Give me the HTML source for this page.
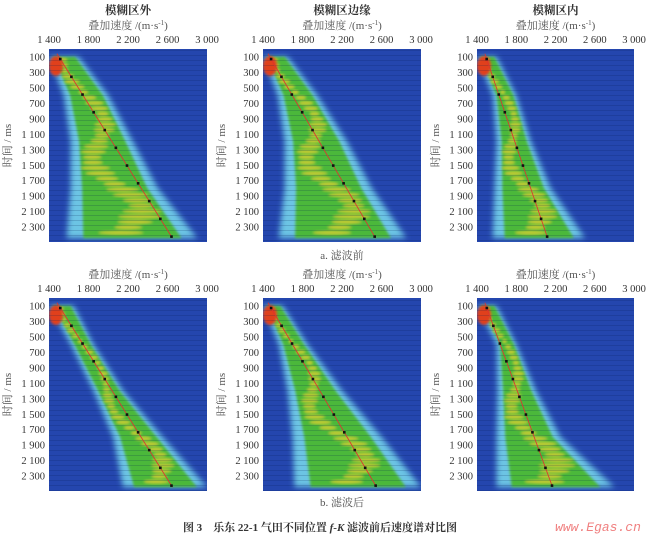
<!DOCTYPE html>
<html><head><meta charset="utf-8"><style>
body{margin:0;background:#fff;width:650px;height:538px;overflow:hidden;font-family:"Liberation Serif","Noto Serif CJK SC",serif;}
svg{display:block}
</style></head><body>
<svg id="s" width="650" height="538" xmlns="http://www.w3.org/2000/svg">
<defs>
<filter id="b1" x="-20%" y="-20%" width="140%" height="140%"><feGaussianBlur stdDeviation="3"/></filter>
<filter id="b2" x="-20%" y="-20%" width="140%" height="140%"><feGaussianBlur stdDeviation="1.4"/></filter>
<pattern id="st" width="4" height="5" patternUnits="userSpaceOnUse"><rect width="4" height="1" fill="#001a50" opacity="0.18"/></pattern>
</defs>
</svg>
<script>
var S=document.getElementById('s'),h='';
var cols=[49,263,477],W=[158,158,157];
var rows=[{y0:49,y1:242},{y0:298,y1:491}];
var T=[100,600,1200,1800,2450];
var P=[
 [[1480,60,2650,2450],[1400,1550,1620,1620,1580],[1700,2000,2250,2500,2900],0.4],
 [[1450,60,2540,2450],[1400,1550,1620,1620,1560],[1650,1950,2250,2500,2850],0.35],
 [[1480,60,2120,2450],[1400,1560,1600,1580,1560],[1600,1800,1950,2150,2500],0.4],
 [[1480,60,2650,2450],[1400,1620,1850,2050,2150],[1650,1850,2150,2550,3000],0.35],
 [[1450,60,2550,2450],[1400,1560,1650,1700,1720],[1600,1850,2200,2600,3000],0.3],
 [[1480,60,2170,2450],[1400,1600,1610,1600,1600],[1600,1800,2000,2250,2800],0.4]
];
var titles=['模糊区外','模糊区边缘','模糊区内'];
function X(c,v){return cols[c]+(v-1400)/1600*W[c];}
for(var r=0;r<2;r++)for(var c=0;c<3;c++){
 var p=P[r*3+c],y0=rows[r].y0,y1=rows[r].y1,k=(y1-y0)/2500;
 function Y(t){return y0+t*k;}
 var x0=cols[c],w=W[c];
 h+='<clipPath id="c'+r+c+'"><rect x="'+x0+'" y="'+y0+'" width="'+w+'" height="'+(y1-y0)+'"/></clipPath>';
 h+='<g clip-path="url(#c'+r+c+')"><rect x="'+x0+'" y="'+y0+'" width="'+w+'" height="'+(y1-y0)+'" fill="#2446ae"/>';
 var pts=[];
 for(var i=0;i<5;i++)pts.push(X(c,p[1][i])+','+Y(T[i]));
 for(var i=4;i>=0;i--)pts.push(X(c,p[2][i])+','+Y(T[i]));
 h+='<polygon points="'+pts.join(' ')+'" fill="#6cc4e4" filter="url(#b1)"/>';
 var g=[];
 for(var i=0;i<5;i++)g.push((X(c,p[1][i])*0.88+X(c,p[2][i])*0.12+1)+','+Y(T[i]));
 for(var i=4;i>=0;i--)g.push((X(c,p[2][i])*0.88+X(c,p[1][i])*0.12)+','+Y(T[i]));
 h+='<polygon points="'+g.join(' ')+'" fill="#4cb83a" filter="url(#b2)"/>';
 var f=p[3];
 for(var t=140;t<2450;t+=70){
  var i=Math.min(3,Math.floor(t/600));var a=(t-T[i])/(T[i+1]-T[i]);
  var lv=p[1][i]+(p[1][i+1]-p[1][i])*a,rv=p[2][i]+(p[2][i+1]-p[2][i])*a;
  var xl=X(c,lv),xr=X(c,rv),m=(xl+xr)/2,hw=(xr-xl)/2*f*(0.5+0.5*Math.abs(Math.sin(t*0.37)));
  h+='<ellipse cx="'+(m+Math.sin(t*1.7)*(xr-xl)*0.2)+'" cy="'+Y(t)+'" rx="'+hw+'" ry="2.2" fill="#e8d030" opacity="0.75" filter="url(#b2)"/>';
 }
 h+='<ellipse cx="'+(x0+7)+'" cy="'+Y(220)+'" rx="7" ry="10" fill="#e0401c" filter="url(#b2)"/>';
 h+='<rect x="'+x0+'" y="'+y0+'" width="'+w+'" height="'+(y1-y0)+'" fill="url(#st)"/>';
 var L=p[0];
 h+='<line x1="'+X(c,L[0])+'" y1="'+Y(L[1])+'" x2="'+X(c,L[2])+'" y2="'+Y(L[3])+'" stroke="#e03030" stroke-width="0.8"/>';
 for(var t=130;t<2450;t+=230){var v=L[0]+(L[2]-L[0])*(t-L[1])/(L[3]-L[1]);h+='<rect x="'+(X(c,v)-1.3)+'" y="'+(Y(t)-1.3)+'" width="2.6" height="2.6" fill="#111"/>';}
 h+='</g>';
 var tl=['1 400','1 800','2 200','2 600','3 000'];
 for(var i=0;i<5;i++)h+='<text x="'+(x0+i*w/4)+'" y="'+(y0-6)+'" font-size="10.5" text-anchor="middle" fill="#333">'+tl[i]+'</text>';
 var yl=['100','300','500','700','900','1 100','1 300','1 500','1 700','1 900','2 100','2 300'];
 for(var i=0;i<12;i++)h+='<text x="'+(x0-4)+'" y="'+(Y(100+200*i)+4)+'" font-size="10.5" text-anchor="end" fill="#333">'+yl[i]+'</text>';
 h+='<text x="'+(x0+w/2)+'" y="'+(y0-20)+'" font-size="11" text-anchor="middle" fill="#555">叠加速度 /(m·s<tspan font-size="7" dy="-4">-1</tspan><tspan dy="4">)</tspan></text>';
 h+='<text transform="translate('+(x0-38)+','+((y0+y1)/2)+') rotate(-90)" font-size="11" text-anchor="middle" fill="#555">时间 / ms</text>';
 if(r==0)h+='<text x="'+(x0+w/2)+'" y="14" font-size="11.5" font-weight="bold" text-anchor="middle" fill="#333">'+titles[c]+'</text>';
}
h+='<text x="342" y="259" font-size="11" text-anchor="middle" fill="#555">a. 滤波前</text>';
h+='<text x="342" y="506" font-size="11" text-anchor="middle" fill="#555">b. 滤波后</text>';
h+='<text x="320" y="531" font-size="11" font-weight="bold" text-anchor="middle" fill="#333">图 3　乐东 22-1 气田不同位置 <tspan font-style="italic">f</tspan>-<tspan font-style="italic">K</tspan> 滤波前后速度谱对比图</text>';
h+='<text x="598" y="531" font-size="13" font-style="italic" text-anchor="middle" fill="#f08080" font-family="Liberation Mono,monospace">www.Egas.cn</text>';
S.insertAdjacentHTML('beforeend',h);
</script>
</body></html>
